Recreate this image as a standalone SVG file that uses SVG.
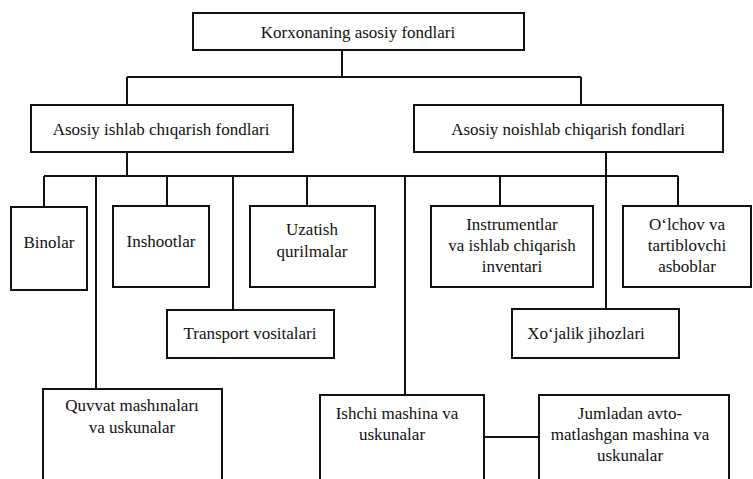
<svg xmlns="http://www.w3.org/2000/svg" width="753" height="479" viewBox="0 0 753 479">
<style>
.box{fill:#fff;stroke:#111;stroke-width:2}
.ln{fill:none;stroke:#111;stroke-width:2}
.t{font-family:"Liberation Serif","Times New Roman",serif;font-size:17px;fill:#111;text-anchor:middle}
</style>
<rect x="0" y="0" width="753" height="479" fill="#fff"/>
<g id="connectors">
<path class="ln" d="M342 50V77M127 77H581M127 77V105M581 77V105"/>
<path class="ln" d="M127 152V176M44 176H678M44 176V207M96 176V389M167 176V206M233 176V310M307 176V206M405 176V395"/>
<path class="ln" d="M606 152V309M500 176V206M678 176V206"/>
<path class="ln" d="M484 437H539"/>
</g>
<g id="root"><rect class="box" x="193" y="13" width="331" height="37"/><text class="t" font-family="Liberation Serif" x="358" y="38">Korxonaning asosiy fondlari</text></g>
<g id="ishlab"><rect class="box" x="31" y="105" width="262" height="47"/><text class="t" font-family="Liberation Serif" x="161" y="135">Asosiy ishlab chıqarish fondlari</text></g>
<g id="noishlab"><rect class="box" x="414" y="105" width="309" height="47"/><text class="t" font-family="Liberation Serif" x="568" y="135">Asosiy noishlab chiqarish fondlari</text></g>
<g id="binolar"><rect class="box" x="11" y="207" width="76" height="83"/><text class="t" font-family="Liberation Serif" x="49" y="248">Binolar</text></g>
<g id="inshootlar"><rect class="box" x="113" y="206" width="96" height="81"/><text class="t" font-family="Liberation Serif" x="161" y="247">Inshootlar</text></g>
<g id="uzatish"><rect class="box" x="250" y="206" width="125" height="81"/><text class="t" font-family="Liberation Serif" x="312" y="235">Uzatish</text><text class="t" font-family="Liberation Serif" x="312" y="257">qurilmalar</text></g>
<g id="transport"><rect class="box" x="167" y="310" width="167" height="48"/><text class="t" font-family="Liberation Serif" x="250" y="339">Transport vositalari</text></g>
<g id="quvvat"><rect class="box" x="43" y="389" width="179" height="100"/><text class="t" font-family="Liberation Serif" x="132" y="411">Quvvat mashınaları</text><text class="t" font-family="Liberation Serif" x="132" y="433">va uskunalar</text></g>
<g id="instrumentlar"><rect class="box" x="431" y="206" width="162" height="81"/><text class="t" font-family="Liberation Serif" x="512" y="230">Instrumentlar</text><text class="t" font-family="Liberation Serif" x="512" y="251">va ishlab chiqarish</text><text class="t" font-family="Liberation Serif" x="512" y="272">inventari</text></g>
<g id="olchov"><rect class="box" x="623" y="206" width="128" height="81"/><text class="t" font-family="Liberation Serif" x="687" y="230">O‘lchov va</text><text class="t" font-family="Liberation Serif" x="687" y="251">tartiblovchi</text><text class="t" font-family="Liberation Serif" x="687" y="272">asboblar</text></g>
<g id="xojalik"><rect class="box" x="512" y="309" width="167" height="49"/><text class="t" font-family="Liberation Serif" x="586" y="339">Xo‘jalik jihozlari</text></g>
<g id="ishchi"><rect class="box" x="320" y="395" width="164" height="100"/><text class="t" font-family="Liberation Serif" x="397" y="419">Ishchi mashina va</text><text class="t" font-family="Liberation Serif" x="392" y="440">uskunalar</text></g>
<g id="jumladan"><rect class="box" x="539" y="395" width="190" height="100"/><text class="t" font-family="Liberation Serif" x="630" y="419">Jumladan avto-</text><text class="t" font-family="Liberation Serif" x="630" y="440">matlashgan mashina va</text><text class="t" font-family="Liberation Serif" x="630" y="461">uskunalar</text></g>
</svg>
